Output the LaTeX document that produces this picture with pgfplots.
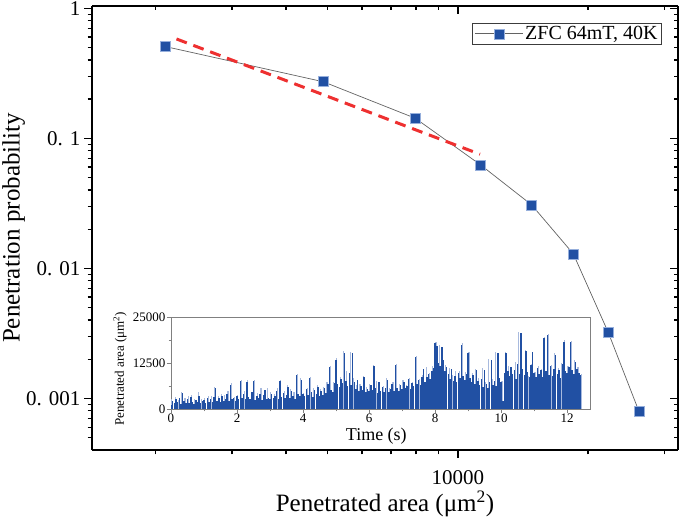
\documentclass[border=0pt]{standalone}
\usepackage{fontspec}
\setmainfont{Liberation Serif}
\usepackage{pgfplots}
\pgfplotsset{compat=1.18}

\definecolor{mainblue}{RGB}{33,80,163}
\definecolor{lightblue}{RGB}{168,186,222}
\definecolor{edgeblue}{RGB}{150,175,220}
\definecolor{dashred}{RGB}{238,48,48}
\definecolor{conn}{RGB}{60,60,60}

\begin{document}
\begin{tikzpicture}
% frame: top and right spines, ticks pointing in
\begin{axis}[
    at={(0,0)}, anchor=south west,
    scale only axis, width=586pt, height=444pt,
    xmode=log, ymode=log,
    xmin=1423, xmax=32300, ymin=0.0004, ymax=1.04,
    axis x line*=top, axis y line*=right,
    axis line style={line width=1.4pt},
    tick align=inside,
    xtick={10000}, ytick={0.001,0.01,0.1,1},
    minor xtick={2000,3000,4000,5000,6000,7000,8000,9000,20000,30000},
    minor ytick={0.0005,0.0006,0.0007,0.0008,0.0009,0.002,0.003,0.004,0.005,0.006,0.007,0.008,0.009,0.02,0.03,0.04,0.05,0.06,0.07,0.08,0.09,0.2,0.3,0.4,0.5,0.6,0.7,0.8,0.9},
    xticklabels={}, yticklabels={},
    major tick length=8pt, minor tick length=4.5pt,
    every tick/.style={line width=1.2pt, black},
]
\addplot[draw=none] coordinates {(2000,0.5)};
\end{axis}

% main axis
\begin{axis}[
    at={(0,0)}, anchor=south west,
    scale only axis, width=586pt, height=444pt,
    xmode=log, ymode=log,
    xmin=1423, xmax=32300, ymin=0.0004, ymax=1.04,
    axis x line*=bottom, axis y line*=left,
    axis line style={line width=1.4pt},
    tick align=outside,
    xtick={10000}, xticklabels={10000},
    ytick={0.001,0.01,0.1,1}, yticklabels={0. 001,0. 01,0. 1,1},
    minor xtick={2000,3000,4000,5000,6000,7000,8000,9000,20000,30000},
    minor ytick={0.0005,0.0006,0.0007,0.0008,0.0009,0.002,0.003,0.004,0.005,0.006,0.007,0.008,0.009,0.02,0.03,0.04,0.05,0.06,0.07,0.08,0.09,0.2,0.3,0.4,0.5,0.6,0.7,0.8,0.9},
    major tick length=8pt, minor tick length=4.5pt,
    every tick/.style={line width=1.2pt, black},
    ticklabel style={font=\fontsize{21}{21}\selectfont},
    xticklabel style={yshift=-9pt},
    /pgf/number format/assume math mode=true,
    xlabel={Penetrated area (μm\textsuperscript{2})},
    ylabel={Penetration probability},
    label style={font=\fontsize{25}{25}\selectfont},
    xlabel style={at={(axis description cs:0.5,-0.1396)}, anchor=base},
    ylabel style={at={(axis description cs:-0.1536,0.5)}, anchor=north, inner sep=0pt},
    legend style={at={(rel axis cs:0.9727,0.9617)}, anchor=north east,
        draw=conn, line width=0.8pt, font=\fontsize{20}{20}\selectfont,
        inner xsep=2pt, inner ysep=1pt},
    legend cell align=left,
    legend image code/.code={
        \draw[#1, mark repeat=2, mark phase=2] plot coordinates {(0pt,0pt) (24pt,0pt) (48pt,0pt)};
    },
]
\addplot[color=conn!80!white, line width=0.7pt, mark=square*, mark size=5pt,
    mark options={fill=mainblue, draw=edgeblue, line width=0.6pt, solid}]
    coordinates {
    (2104,0.507) (4877,0.272) (7965,0.1425) (11284,0.0623)
    (14810,0.0307) (18490,0.0129) (22280,0.0032) (26240,0.00079)
    };
\addlegendentry{ZFC 64mT, 40K}
\addplot[color=dashred, line width=3pt, dash pattern=on 11pt off 7pt, forget plot]
    coordinates {(2232,0.58) (11245,0.0753)};
\end{axis}

% inset
\begin{axis}[
    at={(79pt,41pt)}, anchor=south west,
    scale only axis, width=419pt, height=92pt,
    xmin=0, xmax=12.69, ymin=0, ymax=25000,
    axis background/.style={fill=white},
    axis line style={gray, line width=0.9pt},
    tick align=outside, xtick pos=bottom, ytick pos=left,
    xtick={0,2,...,12}, minor x tick num=1,
    ytick={0,12500,25000}, minor y tick num=1,
    scaled y ticks=false,
    /pgf/number format/set thousands separator={},
    /pgf/number format/assume math mode=true,
    major tick length=4pt, minor tick length=2.5pt,
    every tick/.style={line width=0.8pt, gray},
    ticklabel style={font=\fontsize{13}{13}\selectfont},
    xticklabel style={inner sep=1pt},
    yticklabel style={inner sep=1.5pt},
    xlabel={Time (s)},
    ylabel={Penetrated area (μm\textsuperscript{2})},
    xlabel style={font=\fontsize{18}{18}\selectfont, at={(axis description cs:0.49,-0.337)}, anchor=base},
    ylabel style={font=\fontsize{13}{13}\selectfont, at={(axis description cs:-0.138,0.435)}, anchor=north, inner sep=0pt},
]
% light tips of the spikes
\addplot[ycomb, color=lightblue, line width=1.1pt]
    table[row sep=\\, x expr=\coordindex*0.1+0.025, y index=0] {
2600\\3300\\2400\\4600\\2900\\3500\\3900\\2600\\4500\\2800\\
3100\\3600\\3500\\6000\\3400\\4200\\3800\\4900\\7000\\3300\\
3900\\8000\\5000\\7800\\4300\\8000\\4300\\5600\\4500\\5800\\
4600\\4200\\5600\\8000\\4800\\6500\\5300\\4600\\9600\\8300\\
4400\\5800\\8800\\5600\\6600\\5300\\6000\\7200\\11800\\7400\\
13800\\8700\\15700\\10400\\15500\\8500\\6600\\6700\\9100\\6000\\
6900\\12000\\7600\\6600\\6300\\8300\\5600\\7300\\12300\\6800\\
7800\\6600\\8500\\7400\\14300\\8200\\9300\\11300\\9900\\11600\\
18300\\17300\\13800\\12000\\11200\\9300\\10200\\10200\\17800\\10000\\
15500\\9700\\10900\\8500\\11100\\7300\\13700\\8100\\15400\\8600\\
7600\\15500\\11700\\11000\\12700\\21000\\11200\\16100\\9100\\12300\\
10100\\11600\\11000\\19600\\20400\\12000\\15100\\11100\\12500\\18700\\
11700\\18500\\13300\\11400\\9600\\
};
% measured penetrated area
\addplot[ycomb, color=mainblue, line width=1.5pt]
    table[row sep=\\, x expr=\coordindex*0.05, y index=0] {
1200\\2100\\1500\\2600\\1800\\3000\\1400\\4300\\2200\\1700\\2800\\1500\\3200\\1900\\1400\\2500\\1800\\3600\\1600\\2200\\
2400\\1700\\3100\\2000\\2600\\1800\\3300\\5700\\2200\\2900\\1900\\3500\\2300\\2700\\4000\\2100\\6500\\2600\\3000\\2200\\
3400\\2600\\7600\\3000\\4200\\2700\\7300\\3200\\2800\\4600\\7600\\2500\\3500\\2900\\4100\\2400\\3800\\5200\\2700\\3100\\
2600\\4200\\3000\\3600\\5000\\2800\\7600\\3300\\4400\\2900\\3700\\6000\\3100\\4800\\3500\\2800\\9200\\4000\\3400\\7900\\
4200\\3600\\5400\\3800\\8400\\4600\\3300\\5200\\4000\\6100\\3500\\4800\\3900\\5600\\4300\\6800\\11300\\5200\\4500\\7000\\
13300\\6800\\5900\\8200\\7100\\15300\\7500\\6200\\9800\\6600\\15100\\7200\\5400\\8000\\4900\\6300\\5100\\8700\\4600\\5500\\
4800\\6500\\5200\\11600\\5600\\4400\\7200\\5000\\6100\\4700\\5800\\7900\\4500\\5300\\6900\\4800\\11900\\5700\\5000\\6400\\
5300\\7400\\5600\\6200\\8100\\5500\\7000\\6300\\14000\\6800\\7800\\6500\\8800\\10900\\7300\\8600\\9500\\8200\\10400\\11200\\
17900\\17100\\12500\\11800\\16900\\13300\\10200\\11500\\9400\\8100\\10800\\7600\\8900\\7400\\9800\\8300\\17400\\9100\\8000\\9600\\
15100\\8400\\7200\\9300\\6800\\10500\\7600\\6400\\8100\\6000\\10700\\6900\\5800\\7400\\13300\\6500\\7700\\6200\\15100\\8300\\
7200\\2300\\9800\\15100\\10200\\8900\\11300\\9400\\10600\\8200\\12300\\9600\\20600\\10800\\9200\\15800\\10100\\8700\\11900\\15500\\
9700\\8800\\11200\\9400\\10500\\8600\\19200\\10300\\20000\\9300\\11600\\8900\\10800\\14700\\9500\\10700\\8500\\12100\\18300\\10400\\
9900\\11300\\18100\\10700\\9600\\12900\\11000\\9800\\9200\\
};
\end{axis}

\pgfresetboundingbox
\useasboundingbox (-92pt,-68pt) rectangle (593pt,450pt);
\end{tikzpicture}
\end{document}
